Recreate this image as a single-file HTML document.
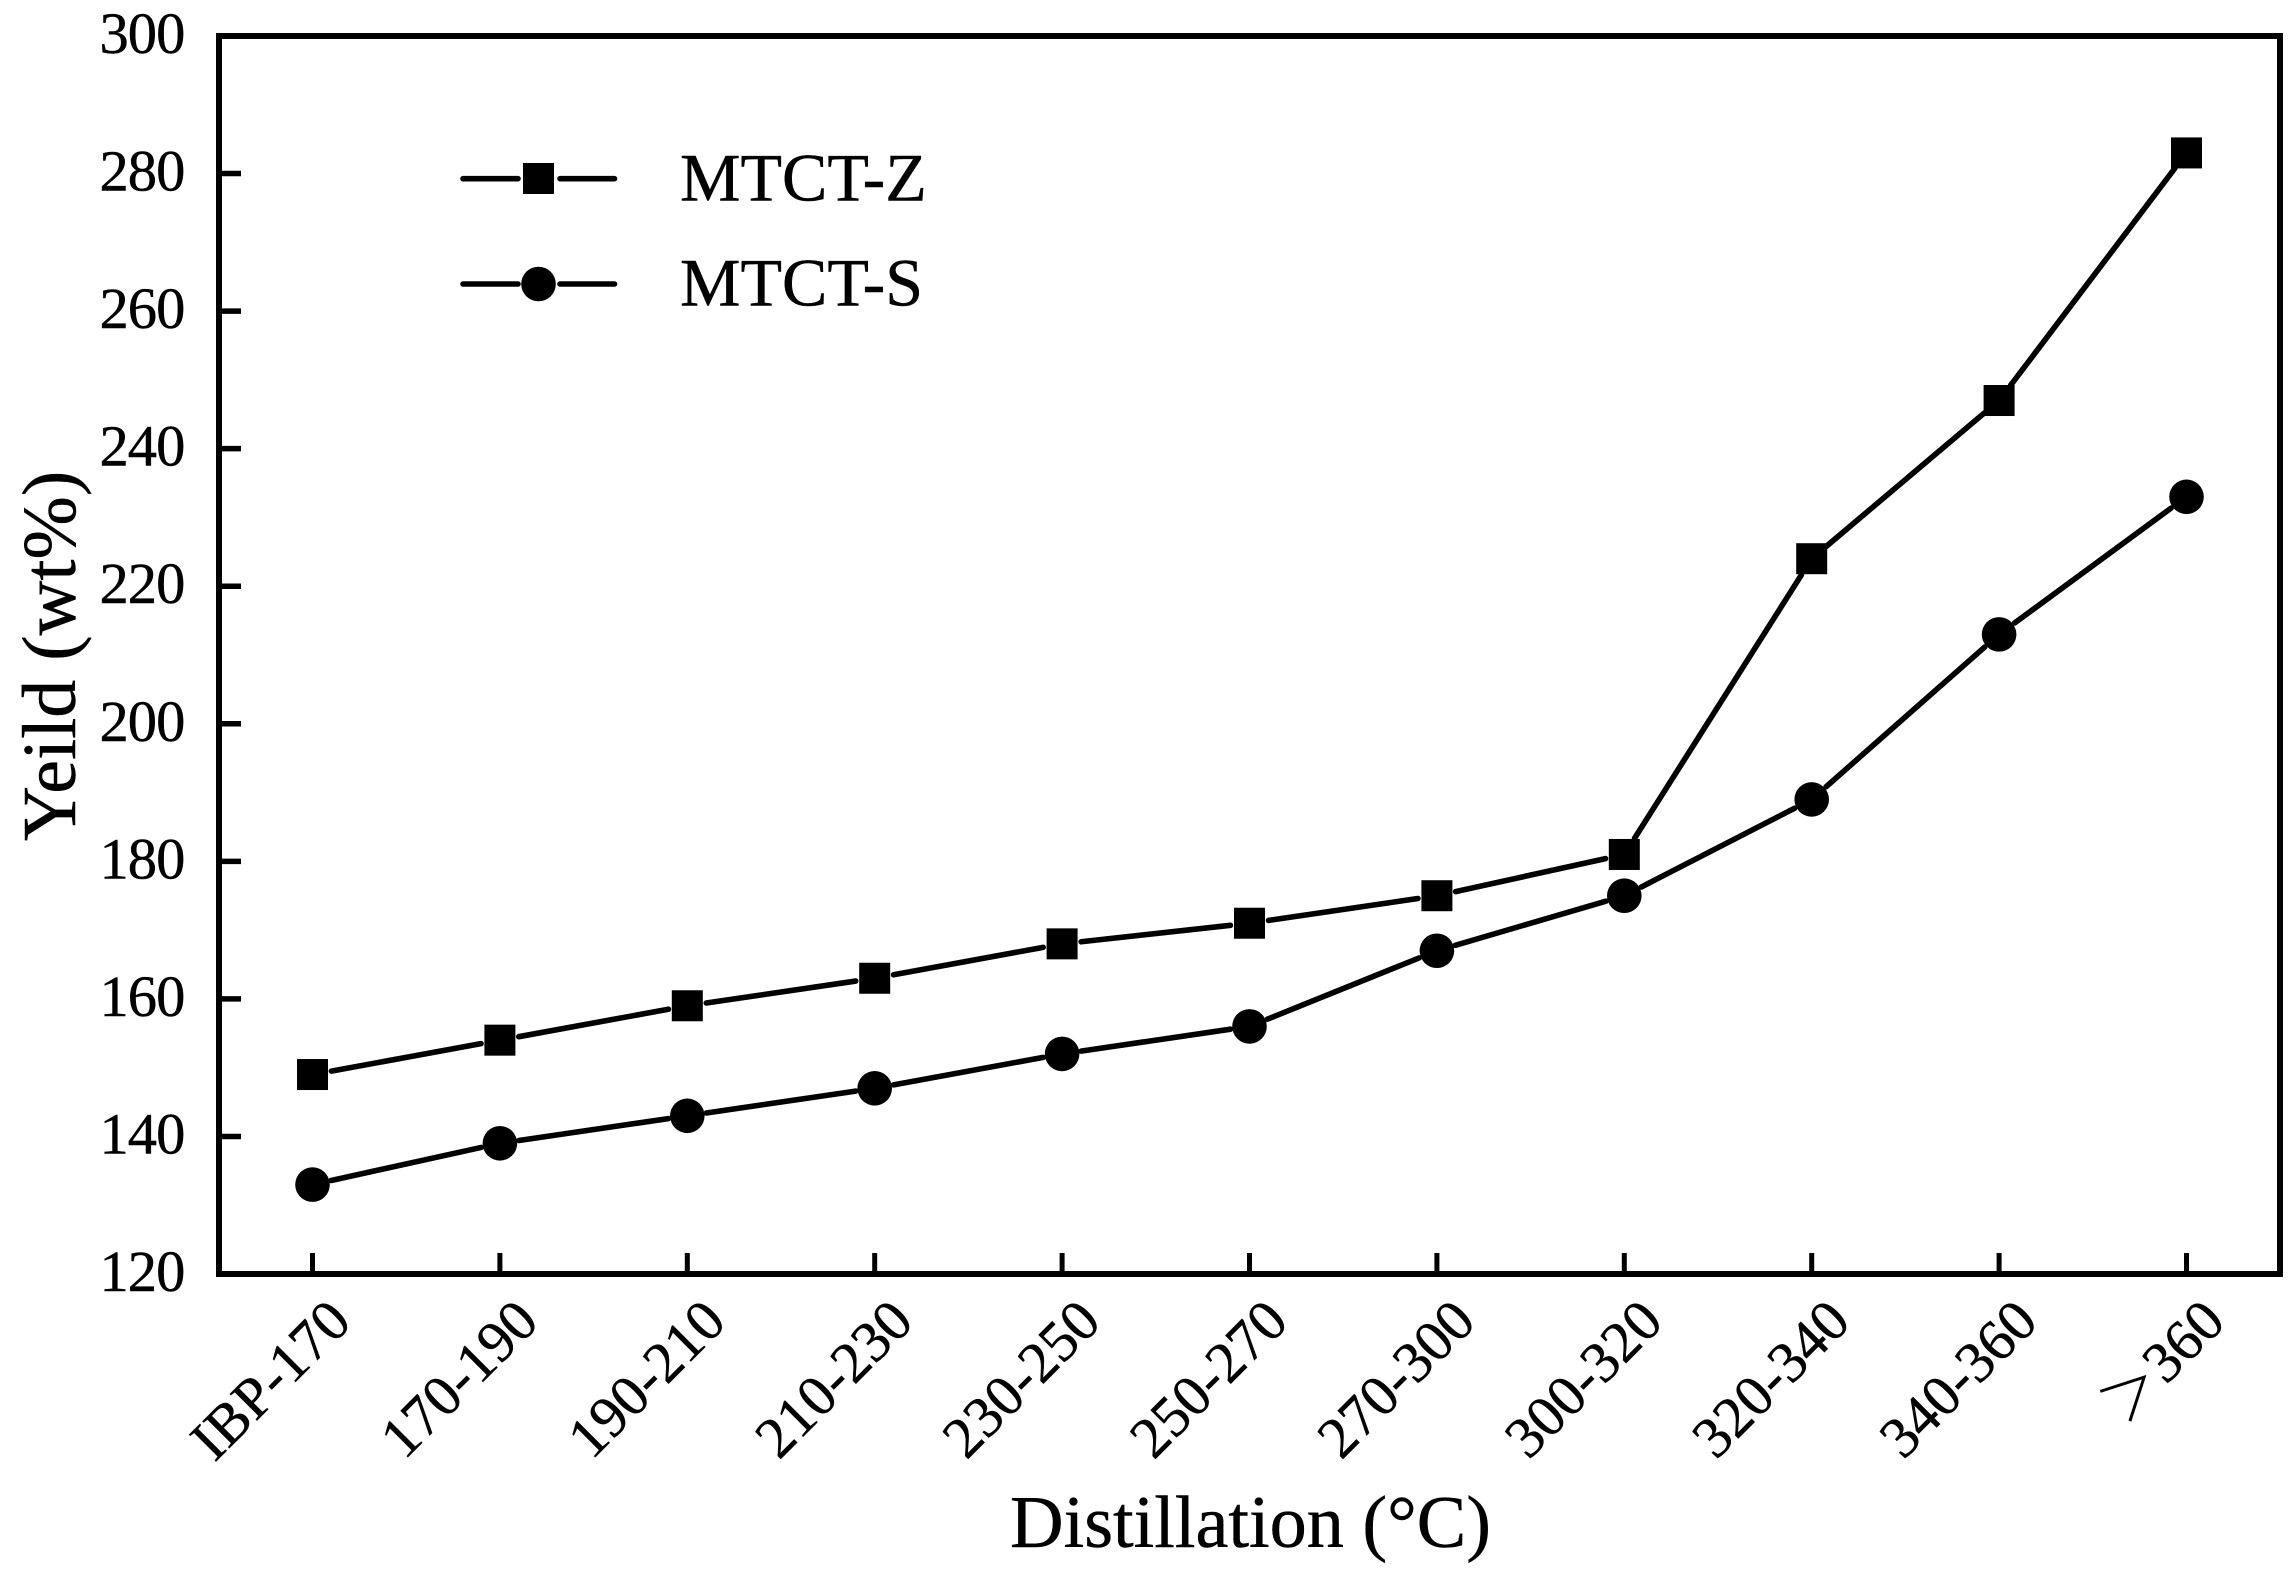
<!DOCTYPE html>
<html>
<head>
<meta charset="utf-8">
<style>
html,body{margin:0;padding:0;background:#fff;width:2292px;height:1570px;overflow:hidden}
svg{display:block}
text{font-family:"Liberation Serif","Noto Serif CJK SC",serif;fill:#000;stroke:#000;stroke-width:.45px}
</style>
</head>
<body>
<svg id="chart" xmlns="http://www.w3.org/2000/svg" width="2292" height="1570" viewBox="0 0 2292 1570">
  <rect x="219" y="36" width="2061" height="1238" fill="none" stroke="#000" stroke-width="6"/>
  <g id="x-ticks"></g>
  <g id="y-ticks"></g>
  <g id="series"></g>
  <text transform="translate(75 841) rotate(-90)" font-size="76">Yeild (wt%)</text>
  <text x="1010" y="1547" font-size="74.2">Distillation (°C)</text>
  <g>
    <g>
      <line x1="463" y1="178.7" x2="518" y2="178.7" stroke="#000" stroke-width="5.6" stroke-linecap="round"/>
      <line x1="560" y1="178.7" x2="614.5" y2="178.7" stroke="#000" stroke-width="5.6" stroke-linecap="round"/>
      <rect x="523" y="163" width="31" height="31" fill="#000"/>
      <text x="680" y="200.7" font-size="68">MTCT-Z</text>
    </g>
    <g>
      <line x1="463" y1="284" x2="518" y2="284" stroke="#000" stroke-width="5.6" stroke-linecap="round"/>
      <line x1="560" y1="284" x2="614.5" y2="284" stroke="#000" stroke-width="5.6" stroke-linecap="round"/>
      <circle cx="538.5" cy="284" r="17.3" fill="#000"/>
      <text x="680" y="305.7" font-size="68">MTCT-S</text>
    </g>
  </g>
</svg>
<script>
const categories = ["IBP-170","170-190","190-210","210-230","230-250","250-270","270-300","300-320","320-340","340-360","＞360"];
const mtctZ = [149,154,159,163,168,171,175,181,224,247,283];
const mtctS = [133,139,143,147,152,156,167,175,189,213,233];
const yTickValues = [120,140,160,180,200,220,240,260,280,300];

const NS = 'http://www.w3.org/2000/svg';
const yMin = 120, yMax = 300;
const plotTop = 36, plotBottom = 1274;
const firstX = 312.5, lastX = 2186.5;
const xScale = i => firstX + i * (lastX - firstX) / (categories.length - 1);
const yScale = v => plotBottom - (v - yMin) * (plotBottom - plotTop) / (yMax - yMin);

function make(tag, attrs, parent) {
  const el = document.createElementNS(NS, tag);
  for (const k in attrs) el.setAttribute(k, attrs[k]);
  parent.appendChild(el);
  return el;
}

const xTicks = document.getElementById('x-ticks');
categories.forEach((c, i) => {
  const x = xScale(i);
  const t = make('line', {x1: x, x2: x, y1: 1253, y2: plotBottom, stroke: '#000', 'stroke-width': 5}, xTicks);
  
  
  const bx = x + 41, by = 1324;
  const l = make('text', {transform: 'translate(' + bx + ' ' + by + ') rotate(-45)', 'text-anchor': 'end', 'font-size': 58}, xTicks);
  l.textContent = c;
  
  
});

const yTicks = document.getElementById('y-ticks');
yTickValues.forEach(v => {
  const y = yScale(v);
  if (v !== yMin && v !== yMax) {
    const t = make('line', {x1: 219, x2: 241, y1: y, y2: y, stroke: '#000', 'stroke-width': 5.5}, yTicks);
    
    
  }
  const l = make('text', {x: 184.5, y: y + 17, 'text-anchor': 'end', 'font-size': 58.5, 'letter-spacing': -0.9}, yTicks);
  l.textContent = v;
  
  
});

const seriesLayer = document.getElementById('series');
const END_GAP = 19.2;

function drawSeries(values, markerType) {
  const g = make('g', {}, seriesLayer);
  
  
  for (let i = 0; i < values.length - 1; i++) {
    const x1 = xScale(i), y1 = yScale(values[i]);
    const x2 = xScale(i + 1), y2 = yScale(values[i + 1]);
    const len = Math.hypot(x2 - x1, y2 - y1);
    const ux = (x2 - x1) / len, uy = (y2 - y1) / len;
    const seg = make('line', {
      x1: x1 + ux * END_GAP, y1: y1 + uy * END_GAP,
      x2: x2 - ux * END_GAP, y2: y2 - uy * END_GAP,
      stroke: '#000', 'stroke-width': 5.6, 'stroke-linecap': 'round'
    }, g);
    
    
  }
  values.forEach((v, i) => {
    const cx = xScale(i), cy = yScale(v);
    let m;
    if (markerType === 'square') {
      m = make('rect', {x: cx - 15.5, y: cy - 15.5, width: 31, height: 31, fill: '#000'}, g);
    } else {
      m = make('circle', {cx: cx, cy: cy, r: 17.3, fill: '#000'}, g);
    }
    
    
  });
}

drawSeries(mtctZ, 'square');
drawSeries(mtctS, 'circle');
</script>
</body>
</html>
